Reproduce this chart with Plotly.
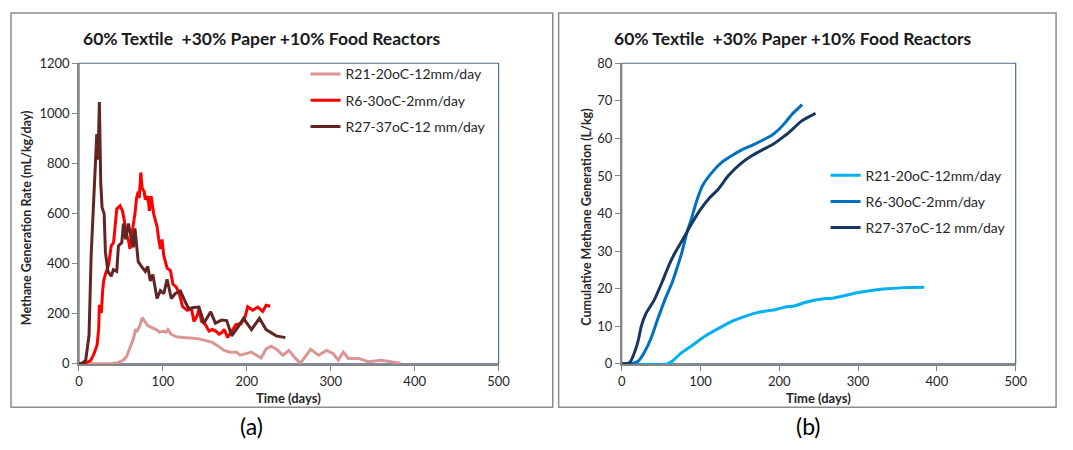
import plotly.graph_objects as go

# page body has an 8px margin: the figure is drawn at (8, 8) inside the 1073x450 window
OFF = 8
W, H = 1073 - OFF, 450 - OFF

# ---------------- data (a) methane generation rate ----------------
r21_rate_days = [0, 20, 40, 47, 53, 57, 61, 65, 67.5, 68.6, 70.6, 72.5, 75.3, 78, 82, 86, 92, 96, 100, 104,
                 106, 110, 116, 125, 133, 141, 149, 159, 165, 173, 180.5, 188, 192, 200, 205.6, 211.5, 217,
                 223, 229, 235, 243, 250, 258, 264, 268, 276, 285.5, 295, 303, 309, 315, 321, 327, 333,
                 344.6, 360, 372, 383]
r21_rate = [0, 0, 2, 6, 15, 32, 64, 102, 140, 127, 140, 153, 185, 172, 153, 146, 137, 127, 130, 127,
            137, 118, 108, 105, 103, 101, 95, 86, 73, 54, 47, 47, 35, 41, 47, 35, 24,
            60, 71, 60, 35, 54, 22, 3, 22, 58, 35, 54, 41, 15, 47, 22, 22, 22,
            9, 15, 9, 3]

r6_rate_days = [0, 9.8, 13.7, 17.6, 21.6, 23.5, 24.3, 26.7, 28.2, 29.4, 31.4, 35.3, 38.4, 41.2, 43, 45, 49,
                51.8, 54, 56, 58.8, 60.8, 62.7, 64.7, 66.7, 68.6, 70.6, 71.8, 73.7, 75.3, 77.6, 79, 82, 84,
                86, 89, 91, 93, 95, 97, 99, 101, 105, 109, 112, 116, 119.6, 123.5, 129, 134, 137, 141, 143,
                146, 150, 155, 159, 163, 167, 170, 173, 177, 181, 187, 193, 198, 201, 207, 213, 219, 223, 228]
r6_rate = [0, 6, 13, 38, 76, 140, 236, 204, 293, 331, 357, 395, 471, 484, 548, 618, 631,
           611, 573, 522, 497, 459, 510, 548, 599, 662, 688, 662, 764, 701, 688, 656, 669, 611,
           669, 599, 573, 548, 497, 459, 497, 433, 382, 372, 318, 306, 280, 229, 214, 221, 169, 195, 221,
           170, 160, 131, 138, 131, 119, 124, 138, 106, 125, 157, 160, 189, 228, 214, 227, 210, 234, 230]

r27_rate_days = [0, 5, 8, 12, 14.5, 16.5, 18, 19.6, 21.2, 22.7, 24.3, 25.9, 27.5, 30, 31.5, 34.5, 38.4, 41,
                 45, 47, 51, 53, 55.7, 58.8, 62, 64.7, 66.7, 70.6, 74.5, 79, 82, 85, 88, 93, 97, 101, 105,
                 110, 114.5, 121, 127, 131, 137, 143, 149, 157, 162.5, 170, 176, 182, 190, 196, 205.6, 215,
                 223, 235, 246]
r27_rate = [0, 5, 15, 115, 433, 573, 669, 777, 917, 815, 1045, 726, 624, 599, 446, 369, 350, 376,
            369, 471, 484, 560, 497, 560, 509, 465, 541, 408, 389, 369, 389, 331, 357, 261, 293, 280, 338,
            261, 280, 291, 245, 220, 225, 227, 163, 208, 163, 175, 173, 112, 150, 182, 137, 182,
            137, 112, 105]

# ---------------- data (b) cumulative methane generation ----------------
r21_cum_days = [0, 58, 64, 75, 88, 105, 126, 142, 161, 175.5, 196, 209, 219, 233.6, 254, 267, 287.5, 300,
                321, 337, 358, 384]
r21_cum = [0, 0, 0.7, 2.8, 4.7, 7.3, 9.8, 11.5, 13, 13.8, 14.5, 15.2, 15.4, 16.4, 17.3, 17.5, 18.4, 19,
           19.7, 20, 20.3, 20.4]

r6_cum_days = [0, 10, 20.7, 29, 37, 45.5, 56, 64, 70, 76.4, 82.6, 89, 95, 103, 116, 128, 141, 153, 166,
               178.6, 191, 200, 207.5, 217, 229]
r6_cum = [0, 0, 0.7, 3.2, 6.7, 11.8, 17.7, 21.6, 25.4, 29.7, 34.8, 39, 43.3, 47.6, 51.3, 53.8, 55.6, 57,
          58.2, 59.5, 60.9, 62.5, 64.2, 66.6, 69]

r27_cum_days = [0, 10, 16.5, 21.5, 24.8, 31, 41, 51.7, 60, 68, 78.5, 89, 99, 111.6, 122.5, 135.5, 153, 166,
                178, 191, 207.5, 217, 228, 238, 246]
r27_cum = [0, 0.3, 3.2, 6.7, 10, 13.5, 16.9, 22, 26.3, 29.7, 33.5, 37.4, 40.8, 44.2, 46.5, 50.1, 53.6, 55.5,
           56.9, 58.3, 60.8, 62.5, 64.6, 65.8, 66.7]

series_names = ["R21-20oC-12mm/day", "R6-30oC-2mm/day", "R27-37oC-12 mm/day"]
colors_a = ["#D99694", "#FF0000", "#632523"]
colors_b = ["#00B0F0", "#0070C0", "#17375E"]
title_text = "60% Textile  +30% Paper +10% Food Reactors"
x_ticks = [0, 100, 200, 300, 400, 500]
y_ticks_a = [0, 200, 400, 600, 800, 1000, 1200]
y_ticks_b = [0, 10, 20, 30, 40, 50, 60, 70, 80]

FONT = "Lato, 'Open Sans', sans-serif"
TXT = "#262626"


def px(x):
    """window pixel x -> paper fraction"""
    return (x - OFF) / W


def py(y):
    """window pixel y -> paper fraction"""
    return 1 - (y - OFF) / H


fig = go.Figure()

rate_sets = [(r21_rate_days, r21_rate), (r6_rate_days, r6_rate), (r27_rate_days, r27_rate)]
for i, (d, v) in enumerate(rate_sets):
    fig.add_trace(go.Scatter(x=d, y=v, mode="lines", name=series_names[i],
                             line=dict(color=colors_a[i], width=3),
                             xaxis="x", yaxis="y", legend="legend", legendgroup="a%d" % i))

cum_sets = [(r21_cum_days, r21_cum), (r6_cum_days, r6_cum), (r27_cum_days, r27_cum)]
for i, (d, v) in enumerate(cum_sets):
    fig.add_trace(go.Scatter(x=d, y=v, mode="lines", name=series_names[i],
                             line=dict(color=colors_b[i], width=3, shape="spline", smoothing=0.6),
                             xaxis="x2", yaxis="y2", legend="legend2", legendgroup="b%d" % i))

axis_common = dict(showgrid=False, zeroline=False, showline=True, linecolor="#868686", linewidth=1.5,
                   ticks="outside", ticklen=5, tickcolor="#868686", tickwidth=1,
                   tickfont=dict(family=FONT, size=13, color=TXT), mirror=False)

# plot areas (window pixels)
A = dict(l=76, r=502, t=57, b=369)
B = dict(l=627, r=1027, t=57, b=369)

leg_font = dict(family=FONT, size=14, color=TXT)
fig.update_layout(
    width=W, height=H, autosize=False,
    margin=dict(l=0, r=0, t=0, b=0),
    paper_bgcolor="white", plot_bgcolor="white",
    font=dict(family=FONT, color=TXT),
    xaxis=dict(domain=[px(A["l"]), px(A["r"])], range=[0, 500], tickvals=x_ticks, anchor="y", **axis_common),
    yaxis=dict(domain=[py(A["b"]), py(A["t"])], range=[0, 1200], tickvals=y_ticks_a, anchor="x", **axis_common),
    xaxis2=dict(domain=[px(B["l"]), px(B["r"])], range=[0, 500], tickvals=x_ticks, anchor="y2", **axis_common),
    yaxis2=dict(domain=[py(B["b"]), py(B["t"])], range=[0, 80], tickvals=y_ticks_b, anchor="x2", **axis_common),
    legend=dict(x=px(306), y=py(52), xanchor="left", yanchor="top", bgcolor="rgba(0,0,0,0)",
                font=leg_font, traceorder="grouped", tracegroupgap=5, itemwidth=30),
    legend2=dict(x=px(834), y=py(157), xanchor="left", yanchor="top", bgcolor="rgba(0,0,0,0)",
                 font=leg_font, traceorder="grouped", tracegroupgap=5, itemwidth=30),
    showlegend=True,
)

shapes = []
# panel frames
for (x0, x1) in [(7, 557), (563, 1068)]:
    shapes.append(dict(type="rect", xref="paper", yref="paper", x0=px(x0), x1=px(x1), y0=py(414), y1=py(5),
                       line=dict(color="#8C8C8C", width=1.5), fillcolor="rgba(0,0,0,0)", layer="below"))
# plot-area borders
for P in (A, B):
    shapes.append(dict(type="rect", xref="paper", yref="paper", x0=px(P["l"]), x1=px(P["r"]),
                       y0=py(P["b"]), y1=py(P["t"]), line=dict(color="#4F6B8F", width=1.2),
                       fillcolor="rgba(0,0,0,0)", layer="below"))
fig.update_layout(shapes=shapes)

ann = []
for P, cx_title in ((A, 262), (B, 801)):
    ann.append(dict(text="<b>" + title_text + "</b>", x=px(cx_title), y=py(31), xref="paper", yref="paper",
                    showarrow=False, font=dict(family=FONT, size=17.5, color="#1a1a1a"),
                    xanchor="center", yanchor="middle"))
    ann.append(dict(text="<b>Time (days)</b>", x=px((P["l"] + P["r"]) / 2), y=py(404), xref="paper",
                    yref="paper", showarrow=False, font=dict(family=FONT, size=13, color=TXT),
                    xanchor="center", yanchor="middle"))
ann.append(dict(text="<b>Methane Generation Rate (mL/kg/day)</b>", x=px(23), y=py(217), xref="paper",
                yref="paper", showarrow=False, textangle=-90, font=dict(family=FONT, size=12.5, color=TXT),
                xanchor="center", yanchor="middle"))
ann.append(dict(text="<b>Cumulative Methane Generation (L/kg)</b>", x=px(591), y=py(217), xref="paper",
                yref="paper", showarrow=False, textangle=-90, font=dict(family=FONT, size=12.5, color=TXT),
                xanchor="center", yanchor="middle"))
ann.append(dict(text="(a)", x=px(251), y=py(433), xref="paper", yref="paper", showarrow=False,
                font=dict(family=FONT, size=23, color="black"), xanchor="center", yanchor="middle"))
ann.append(dict(text="(b)", x=px(817), y=py(433), xref="paper", yref="paper", showarrow=False,
                font=dict(family=FONT, size=23, color="black"), xanchor="center", yanchor="middle"))
fig.update_layout(annotations=ann)

fig.write_html("out.html")
